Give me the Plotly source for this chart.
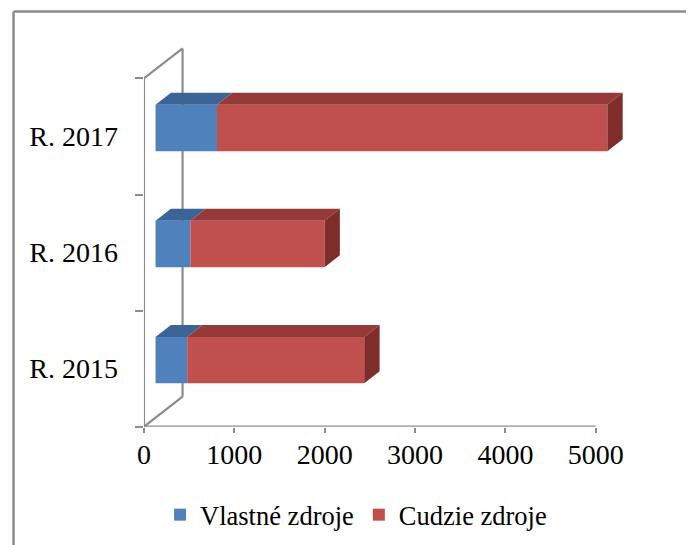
import plotly.graph_objects as go

# ---- data ----
years = ["R. 2015", "R. 2016", "R. 2017"]
vlastne = [350, 385, 680]      # Vlastné zdroje
cudzie = [1960, 1485, 4320]    # Cudzie zdroje
x_ticks = [0, 1000, 2000, 3000, 4000, 5000]

# ---- styling / geometry (pseudo-3D) ----
OFFX, OFFY = 13, 8               # page offset of the figure
W, H = 694 - OFFX, 545 - OFFY
PX_PER_UNIT = 91.3 / 1000.0      # horizontal scale
PX_PER_BAND = 116.1              # vertical band size
X0_PX = 143.3 - OFFX             # pixel of value 0
AX_BOTTOM_PX = 426.7 - OFFY      # pixel of x axis line


def dxu(px):
    return px / PX_PER_UNIT


def dyu(px):
    return px / PX_PER_BAND


bar_off_x, bar_off_y = dxu(11.7), dyu(8.5)
bar_dx, bar_dy = dxu(15.5), dyu(12.0)
wall_dx, wall_dy = dxu(39), dyu(30)
bar_w = 0.4

blue, red = "#4F81BD", "#C0504D"
blue_top, red_top = "#3B6497", "#953A38"
red_side = "#7E2D2B"
gray = "#8C8C8C"
font_family = "Liberation Serif, Times New Roman, serif"

pos = list(range(len(years)))
yc = [p + bar_off_y for p in pos]

fig = go.Figure()

# top & side faces (computed from data)
for i in pos:
    a = bar_off_x
    b = a + vlastne[i]
    e = b + cudzie[i]
    yt = yc[i] + bar_w / 2
    yb = yc[i] - bar_w / 2
    for (s, t, col) in [(a, b, blue_top), (b, e, red_top)]:
        fig.add_trace(go.Scatter(
            x=[s, t, t + bar_dx, s + bar_dx, s],
            y=[yt, yt, yt + bar_dy, yt + bar_dy, yt],
            fill="toself", fillcolor=col, mode="lines",
            line=dict(width=0, color=col), showlegend=False, hoverinfo="skip"))
    fig.add_trace(go.Scatter(
        x=[e, e + bar_dx, e + bar_dx, e, e],
        y=[yb, yb + bar_dy, yt + bar_dy, yt, yb],
        fill="toself", fillcolor=red_side, mode="lines",
        line=dict(width=0, color=red_side), showlegend=False, hoverinfo="skip"))

# front faces
fig.add_trace(go.Bar(
    name="Vlastné zdroje", orientation="h", y=yc, x=vlastne,
    base=[bar_off_x] * len(pos), width=bar_w,
    marker=dict(color=blue, line=dict(width=0))))
fig.add_trace(go.Bar(
    name="Cudzie zdroje", orientation="h", y=yc, x=cudzie,
    base=[bar_off_x + v for v in vlastne], width=bar_w,
    marker=dict(color=red, line=dict(width=0))))

# walls / axis lines
ylo, yhi = -0.5, len(years) - 0.5
shapes = [
    dict(type="line", xref="x", yref="y", x0=0, x1=0, y0=ylo, y1=yhi),
    dict(type="line", xref="x", yref="y", x0=wall_dx, x1=wall_dx,
         y0=ylo + wall_dy, y1=yhi + wall_dy),
    dict(type="line", xref="x", yref="y", x0=0, x1=wall_dx, y0=yhi, y1=yhi + wall_dy),
    dict(type="line", xref="x", yref="y", x0=0, x1=wall_dx, y0=ylo, y1=ylo + wall_dy),
    dict(type="line", xref="x", yref="y", x0=0, x1=x_ticks[-1], y0=ylo, y1=ylo),
]
for s in shapes:
    s["line"] = dict(color=gray, width=2.2)
    s["layer"] = "below"

# outer border (top & left visible)
bx, by = (11.5 - OFFX) / W, 1 - (11.5 - OFFY) / H
shapes += [
    dict(type="line", xref="paper", yref="paper", x0=bx, x1=1.05, y0=by, y1=by,
         line=dict(color=gray, width=2.5)),
    dict(type="line", xref="paper", yref="paper", x0=bx, x1=bx, y0=-0.05, y1=by,
         line=dict(color=gray, width=2.5)),
]

x_dom0 = X0_PX / W
y_dom0 = (H - AX_BOTTOM_PX) / H

fig.update_layout(
    width=W, height=H,
    margin=dict(l=0, r=0, t=0, b=0),
    paper_bgcolor="white", plot_bgcolor="white",
    barmode="overlay",
    font=dict(family=font_family, size=27, color="black"),
    shapes=shapes,
    xaxis=dict(
        domain=[x_dom0, 1], range=[0, (W - X0_PX) / PX_PER_UNIT],
        tickmode="array", tickvals=x_ticks, ticktext=[str(v) for v in x_ticks],
        ticks="outside", ticklen=5, tickwidth=2, tickcolor=gray,
        showline=False, showgrid=False, zeroline=False,
        ticklabelstandoff=-2,
        tickfont=dict(family=font_family, size=28, color="black"),
    ),
    yaxis=dict(
        domain=[y_dom0, 1], range=[ylo, ylo + AX_BOTTOM_PX / PX_PER_BAND],
        tickmode="array", tickvals=pos, ticktext=years, ticks="",
        minor=dict(tickmode="array", tickvals=[p - 0.5 for p in pos] + [yhi],
                   ticks="outside", ticklen=8, tickwidth=2, tickcolor=gray),
        showline=False, showgrid=False, zeroline=False,
        ticklabelstandoff=25,
        tickfont=dict(family=font_family, size=28, color="black"),
    ),
    legend=dict(
        orientation="h", x=0.506, xanchor="center", y=0.056, yanchor="middle",
        font=dict(family=font_family, size=26.5, color="black"),
        bgcolor="rgba(0,0,0,0)", traceorder="normal",
    ),
)

fig.write_html("out.html")
